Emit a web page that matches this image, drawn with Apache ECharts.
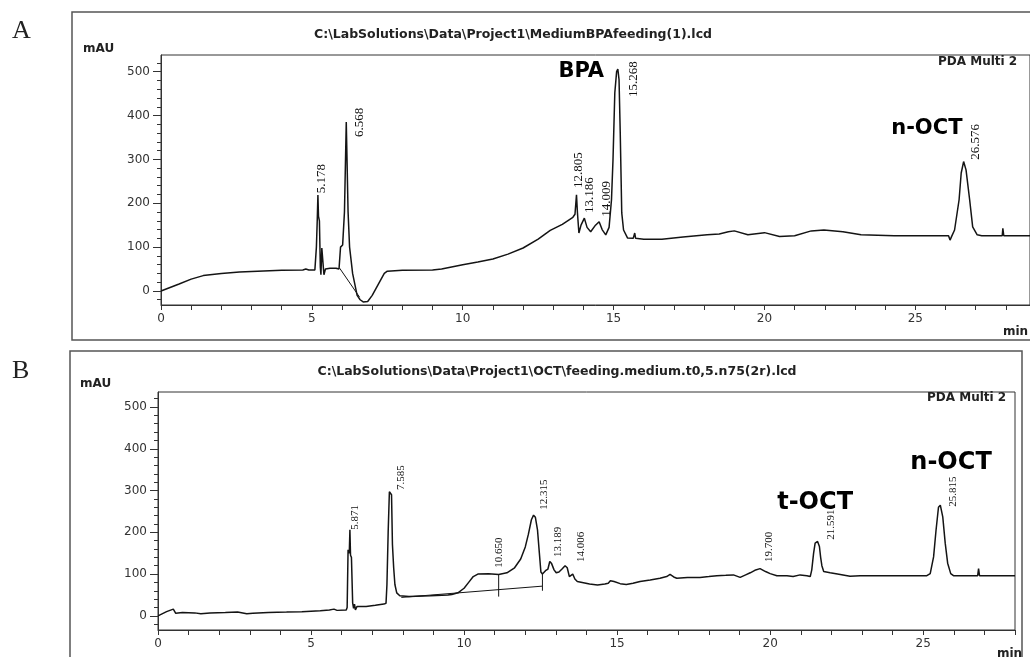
<!DOCTYPE html>
<html>
<head>
<meta charset="utf-8" />
<title>HPLC chromatograms</title>
<style>
  html, body { margin: 0; padding: 0; background: #fff; }
  #chart { width: 1030px; height: 657px; }
</style>
</head>
<body>
<div id="chart"></div>
<script src="https://cdn.jsdelivr.net/npm/echarts@6.0.0/dist/echarts.min.js"></script>
<script>
// ---- data: [time (min), absorbance (mAU)] ----
var traceA = [
  [0, 0], [0.3, 8], [0.6, 16], [1.0, 27], [1.4, 35], [2.0, 40], [2.6, 43], [3.2, 45],
  [4.0, 47], [4.7, 48], [4.8, 50], [4.9, 48], [5.1, 48], [5.15, 100], [5.18, 165],
  [5.2, 219], [5.22, 170], [5.25, 160], [5.28, 55], [5.3, 37], [5.33, 98], [5.36, 100],
  [5.4, 37], [5.45, 50], [5.6, 52], [5.8, 52], [5.9, 50], [5.95, 100], [6.02, 105],
  [6.08, 180], [6.14, 385], [6.17, 383], [6.2, 180], [6.25, 100], [6.35, 40], [6.5, -10],
  [6.6, -20], [6.7, -25], [6.85, -24], [7.0, -10], [7.2, 15], [7.4, 40], [7.5, 45],
  [8.0, 47], [9.0, 48], [9.3, 50], [10.0, 60], [10.5, 66], [11.0, 73], [11.5, 84],
  [12.0, 98], [12.5, 118], [12.9, 138], [13.3, 152], [13.65, 168], [13.72, 175],
  [13.77, 219], [13.8, 180], [13.85, 132], [13.92, 150], [14.03, 166], [14.12, 145],
  [14.24, 135], [14.4, 150], [14.52, 158], [14.62, 140], [14.74, 128], [14.85, 145],
  [14.93, 208], [14.98, 299], [15.04, 452], [15.1, 500], [15.14, 506], [15.18, 482],
  [15.22, 360], [15.27, 178], [15.33, 139], [15.46, 121], [15.65, 120], [15.7, 132],
  [15.73, 120], [16.0, 118], [16.6, 118], [17.3, 123], [18.1, 128], [18.5, 130],
  [18.8, 135], [19.0, 137], [19.45, 128], [20.0, 133], [20.5, 124], [21.0, 126],
  [21.55, 137], [21.97, 139], [22.6, 135], [23.2, 128], [24.3, 126], [25.4, 126],
  [26.1, 126], [26.15, 116], [26.2, 124], [26.3, 139], [26.45, 208], [26.52, 269],
  [26.6, 295], [26.68, 276], [26.8, 208], [26.9, 146], [27.05, 128], [27.2, 126],
  [27.88, 126], [27.9, 143], [27.93, 126], [28.8, 126]
];
var baselinesA = [
  [[5.92, 52], [6.58, -14]]
];
var peakNamesA = ['5.178', '6.568', '12.805', '13.186', '14.009', '15.268', '26.576'];
var peakLabelXA = [5.32, 6.57, 13.83, 14.2, 14.76, 15.66, 27.0];
var peakLabelYA = [223, 351, 235, 178, 169, 442, 299];
var compoundsA = ['BPA', 'n-OCT'];
var compoundXA = [13.17, 24.2];
var compoundYA = [476, 347];

var traceB = [
  [0, 0], [0.28, 10], [0.5, 16], [0.58, 6], [0.8, 8], [1.2, 7], [1.4, 5], [1.7, 7],
  [2.2, 8], [2.6, 9], [2.9, 5], [3.1, 6], [3.6, 8], [4.2, 9], [4.7, 10], [5.3, 12],
  [5.6, 14], [5.75, 16], [5.85, 13], [6.15, 14], [6.18, 20], [6.21, 158], [6.25, 150],
  [6.27, 206], [6.29, 145], [6.32, 140], [6.36, 31], [6.39, 18], [6.42, 28], [6.45, 14],
  [6.5, 22], [6.8, 22], [7.1, 25], [7.38, 28], [7.45, 30], [7.48, 75], [7.52, 200],
  [7.56, 297], [7.6, 300], [7.63, 290], [7.66, 170], [7.7, 115], [7.74, 75], [7.8, 55],
  [7.9, 48], [8.2, 46], [8.9, 48], [9.47, 50], [9.6, 51], [9.8, 55], [10.0, 66],
  [10.15, 80], [10.3, 94], [10.45, 100], [10.8, 101], [11.13, 99], [11.4, 103],
  [11.65, 115], [11.85, 136], [12.0, 165], [12.1, 195], [12.2, 230], [12.27, 241],
  [12.33, 236], [12.4, 205], [12.46, 150], [12.51, 105], [12.56, 100], [12.6, 104],
  [12.66, 108], [12.74, 112], [12.8, 130], [12.86, 125], [12.94, 110], [13.01, 103],
  [13.1, 105], [13.2, 112], [13.3, 120], [13.37, 115], [13.44, 94], [13.5, 97],
  [13.55, 100], [13.62, 88], [13.7, 82], [13.9, 79], [14.1, 76], [14.36, 74], [14.6, 76],
  [14.71, 78], [14.78, 84], [14.84, 87], [14.9, 82], [14.96, 78], [15.1, 77], [15.3, 75],
  [15.52, 78], [15.75, 82], [16.08, 86], [16.4, 90], [16.62, 94], [16.73, 99],
  [16.85, 93], [16.95, 90], [17.3, 92], [17.71, 92], [18.0, 94], [18.26, 96], [18.55, 97],
  [18.8, 98], [19.02, 92], [19.2, 98], [19.35, 103], [19.5, 109], [19.67, 113],
  [19.85, 106], [20.0, 101], [20.22, 96], [20.55, 96], [20.75, 94], [20.98, 98],
  [21.2, 96], [21.31, 94], [21.36, 110], [21.42, 150], [21.47, 174], [21.55, 178],
  [21.61, 166], [21.65, 140], [21.69, 120], [21.75, 106], [21.8, 103], [21.96, 103],
  [22.2, 100], [22.61, 95], [22.94, 96], [23.5, 96], [24.5, 96], [25.12, 96],
  [25.23, 101], [25.34, 141], [25.42, 205], [25.5, 260], [25.56, 265], [25.64, 237],
  [25.72, 174], [25.8, 126], [25.9, 101], [25.99, 96], [26.78, 96], [26.81, 113],
  [26.84, 96], [28, 96]
];
var baselinesB = [
  [[7.95, 44], [12.55, 71]],
  [[11.13, 99], [11.13, 46]],
  [[12.56, 102], [12.56, 60]]
];
var peakNamesB = ['5.871', '7.585', '10.650', '12.315', '13.189', '14.006', '19.700', '21.591', '25.815'];
var peakLabelXB = [6.44, 7.94, 11.14, 12.61, 13.06, 13.81, 19.97, 21.99, 25.98];
var peakLabelYB = [206, 301, 115, 254, 141, 129, 129, 182, 261];
var compoundsB = ['t-OCT', 'n-OCT'];
var compoundXB = [20.23, 24.58];
var compoundYB = [242, 337];

// axis ticks
var xTickValues = [0,1,2,3,4,5,6,7,8,9,10,11,12,13,14,15,16,17,18,19,20,21,22,23,24,25,26,27,28];
var xLabelValues = [0, 5, 10, 15, 20, 25];
var yLabelValues = [0, 100, 200, 300, 400, 500];
var yMinorValues = [-20, 20, 40, 60, 80, 120, 140, 160, 180, 220, 240, 260, 280,
  320, 340, 360, 380, 420, 440, 460, 480, 520];

var ink = '#141414';
var axisFont = 'DejaVu Sans';

function pointsOf(xs, ys, names) {
  return names.map(function (n, i) { return { name: n, value: [xs[i], ys[i]] }; });
}

function xAxisFor(grid, max) {
  return {
    gridIndex: grid, type: 'value', min: 0, max: max,
    axisLine: { onZero: false, lineStyle: { color: '#333', width: 1 } },
    axisTick: { customValues: xTickValues, length: 5, lineStyle: { color: '#333' } },
    axisLabel: { customValues: xLabelValues, margin: 8, color: '#333', fontFamily: axisFont, fontSize: 12 },
    splitLine: { show: false }
  };
}
function yAxesFor(grid, min, max) {
  return [{
    gridIndex: grid, type: 'value', position: 'left', min: min, max: max,
    axisLine: { show: true, onZero: false, lineStyle: { color: '#333', width: 1 } },
    axisTick: { customValues: yLabelValues, length: 8, lineStyle: { color: '#333' } },
    axisLabel: { customValues: yLabelValues, margin: 11, color: '#333', fontFamily: axisFont, fontSize: 12 },
    splitLine: { show: false }
  }, {
    gridIndex: grid, type: 'value', position: 'left', min: min, max: max,
    axisLine: { show: false },
    axisTick: { customValues: yMinorValues, length: 4, lineStyle: { color: '#333' } },
    axisLabel: { show: false },
    splitLine: { show: false }
  }];
}

function traceSeries(data, xi, yi) {
  return {
    type: 'line', xAxisIndex: xi, yAxisIndex: yi, data: data,
    showSymbol: false, symbol: 'none', z: 5,
    lineStyle: { color: ink, width: 1.5 }
  };
}
function peakLabelSeries(pts, xi, yi, size) {
  return {
    type: 'scatter', xAxisIndex: xi, yAxisIndex: yi, data: pts, symbolSize: 0, z: 6,
    itemStyle: { opacity: 1 },
    label: {
      show: true, position: 'inside', formatter: '{b}', rotate: 90,
      align: 'left', verticalAlign: 'middle', opacity: 1,
      fontFamily: 'Liberation Sans Narrow', fontSize: size, color: '#111'
    }
  };
}
function compoundSeries(pts, xi, yi, size) {
  return {
    type: 'scatter', xAxisIndex: xi, yAxisIndex: yi, data: pts, symbolSize: 0, z: 6,
    itemStyle: { opacity: 1 },
    label: {
      show: true, position: 'inside', formatter: '{b}',
      align: 'left', verticalAlign: 'bottom', opacity: 1,
      fontFamily: 'DejaVu Sans', fontWeight: 'bold', fontSize: size, color: '#000'
    }
  };
}

var series = [traceSeries(traceA, 0, 0), traceSeries(traceB, 1, 2)];
baselinesA.forEach(function (seg) {
  series.push({ type: 'line', xAxisIndex: 0, yAxisIndex: 0, data: seg, symbol: 'none', lineStyle: { color: ink, width: 1 } });
});
baselinesB.forEach(function (seg) {
  series.push({ type: 'line', xAxisIndex: 1, yAxisIndex: 2, data: seg, symbol: 'none', lineStyle: { color: ink, width: 1 } });
});
series.push(peakLabelSeries(pointsOf(peakLabelXA, peakLabelYA, peakNamesA), 0, 0, 13));
series.push(peakLabelSeries(pointsOf(peakLabelXB, peakLabelYB, peakNamesB), 1, 2, 11));
series.push(compoundSeries(pointsOf(compoundXA, compoundYA, compoundsA), 0, 0, 21));
series.push(compoundSeries(pointsOf(compoundXB, compoundYB, compoundsB), 1, 2, 24));

function txt(x, y, text, font, align) {
  return {
    type: 'text', x: x, y: y, silent: true,
    style: { text: text, font: font, fill: '#222', align: align || 'left', verticalAlign: 'middle' }
  };
}

var myChart = echarts.init(document.getElementById('chart'), null, { renderer: 'canvas' });
var option = {
  animation: false,
  backgroundColor: '#fff',
  grid: [
    { left: 161, top: 55, width: 877, height: 250, show: true, borderColor: '#333', borderWidth: 1 },
    { left: 158, top: 392, width: 857, height: 238, show: true, borderColor: '#333', borderWidth: 1 }
  ],
  xAxis: [xAxisFor(0, 28.8), xAxisFor(1, 28)],
  yAxis: yAxesFor(0, -32, 538).concat(yAxesFor(1, -34, 536)),
  series: series,
  graphic: [
    { type: 'rect', shape: { x: 72, y: 12, width: 1000, height: 328 }, silent: true,
      style: { fill: 'none', stroke: '#555', lineWidth: 1.5 } },
    { type: 'rect', shape: { x: 70, y: 351, width: 952, height: 400 }, silent: true,
      style: { fill: 'none', stroke: '#555', lineWidth: 1.5 } },
    txt(12, 31, 'A', '26px "Liberation Serif"'),
    txt(12, 371, 'B', '26px "Liberation Serif"'),
    txt(513, 35, 'C:\\LabSolutions\\Data\\Project1\\MediumBPAfeeding(1).lcd', 'bold 12.5px "DejaVu Sans"', 'center'),
    txt(557, 372, 'C:\\LabSolutions\\Data\\Project1\\OCT\\feeding.medium.t0,5.n75(2r).lcd', 'bold 12.5px "DejaVu Sans"', 'center'),
    txt(83, 49, 'mAU', 'bold 12px "DejaVu Sans"'),
    txt(80, 384, 'mAU', 'bold 12px "DejaVu Sans"'),
    txt(938, 62, 'PDA Multi 2', 'bold 12px "DejaVu Sans"'),
    txt(927, 398, 'PDA Multi 2', 'bold 12px "DejaVu Sans"'),
    txt(1003, 332, 'min', 'bold 12px "DejaVu Sans"'),
    txt(997, 654, 'min', 'bold 12px "DejaVu Sans"')
  ]
};
myChart.setOption(option);
</script>
</body>
</html>
